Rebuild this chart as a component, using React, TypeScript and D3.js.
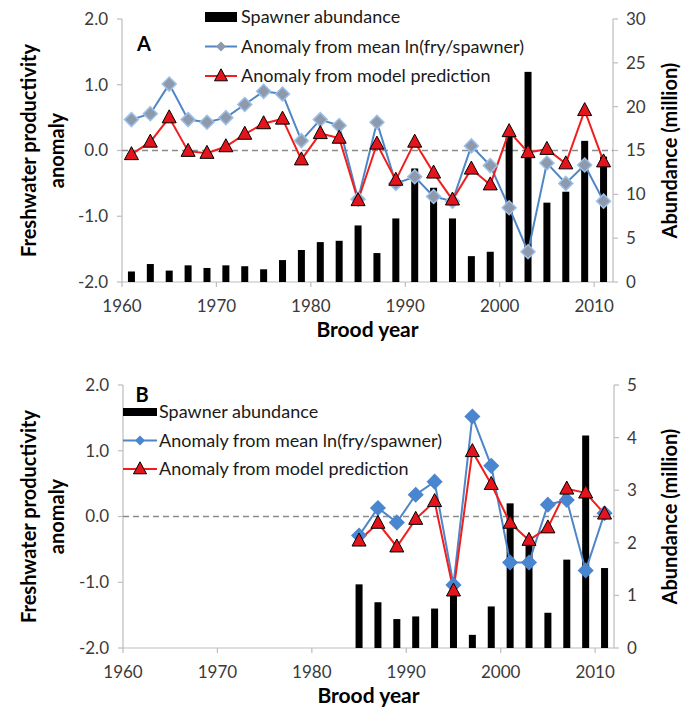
import React from "react";
import * as d3 from "d3";

// Brood years (odd years) for each stock
const yearsA = [1961, 1963, 1965, 1967, 1969, 1971, 1973, 1975, 1977, 1979, 1981, 1983, 1985, 1987, 1989, 1991, 1993, 1995, 1997, 1999, 2001, 2003, 2005, 2007, 2009, 2011];
// Spawner abundance (million)
const abundanceA = [1.2, 2.05, 1.3, 1.9, 1.6, 1.9, 1.8, 1.45, 2.5, 3.65, 4.55, 4.7, 6.45, 3.3, 7.25, 12.95, 10.75, 7.25, 2.95, 3.45, 16.55, 23.97, 9.05, 10.3, 16.1, 14.3];
// Anomaly from mean ln(fry/spawner)
const meanAnomA = [0.47, 0.56, 1.01, 0.47, 0.43, 0.5, 0.7, 0.9, 0.86, 0.15, 0.47, 0.38, -0.74, 0.43, -0.5, -0.4, -0.7, -0.77, 0.07, -0.23, -0.87, -1.54, -0.19, -0.5, -0.22, -0.77];
// Anomaly from model prediction
const modelAnomA = [-0.06, 0.13, 0.5, -0.01, -0.04, 0.06, 0.25, 0.41, 0.48, -0.14, 0.26, 0.19, -0.76, 0.1, -0.45, 0.13, -0.34, -0.75, -0.28, -0.52, 0.29, -0.03, 0.02, -0.2, 0.61, -0.17];

const yearsB = [1985, 1987, 1989, 1991, 1993, 1995, 1997, 1999, 2001, 2003, 2005, 2007, 2009, 2011];
const abundanceB = [1.21, 0.87, 0.55, 0.6, 0.75, 1.1, 0.25, 0.79, 2.75, 2.0, 0.67, 1.68, 4.04, 1.52];
const meanAnomB = [-0.29, 0.13, -0.09, 0.33, 0.53, -1.04, 1.52, 0.77, -0.7, -0.7, 0.18, 0.25, -0.82, 0.05];
const modelAnomB = [-0.37, -0.1, -0.46, -0.04, 0.23, -1.13, 0.99, 0.49, -0.1, -0.36, -0.17, 0.42, 0.36, 0.04];

const yearTicks = [1960, 1970, 1980, 1990, 2000, 2010];
const anomalyTicks = [-2, -1, 0, 1, 2];
const abundanceTicksA = [0, 5, 10, 15, 20, 25, 30];
const abundanceTicksB = [0, 1, 2, 3, 4, 5];

const legendLabels = ["Spawner abundance", "Anomaly from mean ln(fry/spawner)", "Anomaly from model prediction"];

const FONT = "Lato, 'Open Sans', sans-serif";
const AXIS_GREY = "#BDBDBD";
const TICK_TEXT = "#3a3a3a";
const BLUE = "#4F86C6";
const RED = "#F01E1E";
const TRI_FILL = "#E3141C";

function diamond(cx: number, cy: number, r: number) {
  return `M${cx},${cy - r}L${cx + r},${cy}L${cx},${cy + r}L${cx - r},${cy}Z`;
}
function triangle(cx: number, cy: number, w: number, h: number) {
  return `M${cx},${cy - h * 0.6}L${cx + w / 2},${cy + h * 0.4}L${cx - w / 2},${cy + h * 0.4}Z`;
}

type PanelProps = {
  label: string;
  years: number[];
  abundance: number[];
  meanAnom: number[];
  modelAnom: number[];
  abundTicks: number[];
  left: number;
  right: number;
  top: number;
  bottom: number;
  diamondFill: string;
  diamondStroke: string;
  legend: { x: number; y: number; gap: number; swW: number; swH: number; textX: number; labelX: number; labelY: number };
};

function Panel(p: PanelProps) {
  const x = d3.scaleLinear().domain([1960, 2012]).range([p.left, p.right]);
  const y = d3.scaleLinear().domain([-2, 2]).range([p.bottom, p.top]);
  const ya = d3.scaleLinear().domain([0, p.abundTicks[p.abundTicks.length - 1]]).range([p.bottom, p.top]);
  const fmt = d3.format(".1f");
  const barW = 7;
  const line = d3.line<number>().x((_, i) => x(p.years[i])).y((v) => y(v));
  const midY = (p.top + p.bottom) / 2;
  const lg = p.legend;

  return (
    <g fontFamily={FONT}>
      {/* axes */}
      <line x1={p.left} x2={p.left} y1={p.top} y2={p.bottom} stroke={AXIS_GREY} strokeWidth={1.2} />
      <line x1={p.right} x2={p.right} y1={p.top} y2={p.bottom} stroke={AXIS_GREY} strokeWidth={1.2} />
      <line x1={p.left} x2={p.right} y1={p.bottom} y2={p.bottom} stroke={AXIS_GREY} strokeWidth={1.2} />
      {anomalyTicks.map((t) => (
        <g key={"l" + t}>
          <line x1={p.left - 5} x2={p.left} y1={y(t)} y2={y(t)} stroke={AXIS_GREY} strokeWidth={1.2} />
          <text x={p.left - 14} y={y(t)} dy="0.35em" textAnchor="end" fontSize={17} fill={TICK_TEXT}>
            {t < 0 ? "-" + fmt(-t) : fmt(t)}
          </text>
        </g>
      ))}
      {p.abundTicks.map((t) => (
        <g key={"r" + t}>
          <line x1={p.right} x2={p.right + 5} y1={ya(t)} y2={ya(t)} stroke={AXIS_GREY} strokeWidth={1.2} />
          <text x={p.right + 13} y={ya(t)} dy="0.35em" textAnchor="start" fontSize={17} fill={TICK_TEXT}>
            {t}
          </text>
        </g>
      ))}
      {yearTicks.map((t) => (
        <g key={"x" + t}>
          <line x1={x(t)} x2={x(t)} y1={p.bottom} y2={p.bottom + 5} stroke={AXIS_GREY} strokeWidth={1.2} />
          <text x={x(t)} y={p.bottom + 24} dy="0.35em" textAnchor="middle" fontSize={17} fill={TICK_TEXT}>
            {t}
          </text>
        </g>
      ))}

      {/* axis titles */}
      <text transform={`translate(29,${midY}) rotate(-90)`} textAnchor="middle" dy="0.35em" fontSize={20} fontWeight="bold" fill="#000">
        Freshwater productivity
      </text>
      <text transform={`translate(57,${midY}) rotate(-90)`} textAnchor="middle" dy="0.35em" fontSize={20} fontWeight="bold" fill="#000">
        anomaly
      </text>
      <text transform={`translate(670,${midY}) rotate(-90)`} textAnchor="middle" dy="0.35em" fontSize={20} fontWeight="bold" fill="#000">
        Abundance (million)
      </text>
      <text x={(p.left + p.right) / 2} y={p.bottom + 55} textAnchor="middle" fontSize={21} fontWeight="bold" fill="#000">
        Brood year
      </text>

      {/* zero reference */}
      <line x1={p.left} x2={p.right} y1={y(0)} y2={y(0)} stroke="#8a8a8a" strokeWidth={1.6} strokeDasharray="6,4" />

      {/* spawner abundance bars */}
      {p.abundance.map((v, i) => (
        <rect key={"b" + i} x={x(p.years[i]) - barW / 2} y={ya(v)} width={barW} height={p.bottom - ya(v)} fill="#000" />
      ))}

      {/* anomaly lines */}
      <path d={line(p.meanAnom) || ""} fill="none" stroke={BLUE} strokeWidth={2} />
      <path d={line(p.modelAnom) || ""} fill="none" stroke={RED} strokeWidth={2} />
      {p.meanAnom.map((v, i) => (
        <path key={"d" + i} d={diamond(x(p.years[i]), y(v), 7)} fill={p.diamondFill} stroke={p.diamondStroke} strokeWidth={1.5} />
      ))}
      {p.modelAnom.map((v, i) => (
        <path key={"t" + i} d={triangle(x(p.years[i]), y(v), 14, 13)} fill={TRI_FILL} stroke="#000" strokeWidth={1} />
      ))}

      {/* panel label */}
      <text x={lg.labelX} y={lg.labelY} dy="0.35em" textAnchor="middle" fontSize={20} fontWeight="bold" fill="#000">
        {p.label}
      </text>

      {/* legend */}
      <rect x={lg.x} y={lg.y - lg.swH / 2} width={lg.swW} height={lg.swH} fill="#000" />
      <line x1={lg.x} x2={lg.x + lg.swW} y1={lg.y + lg.gap} y2={lg.y + lg.gap} stroke={BLUE} strokeWidth={2} />
      <path d={diamond(lg.x + lg.swW / 2, lg.y + lg.gap, 5)} fill={p.diamondFill} stroke="none" />
      <line x1={lg.x} x2={lg.x + lg.swW} y1={lg.y + 2 * lg.gap} y2={lg.y + 2 * lg.gap} stroke={RED} strokeWidth={2} />
      <path d={triangle(lg.x + lg.swW / 2, lg.y + 2 * lg.gap, 13, 12)} fill={TRI_FILL} stroke="#000" strokeWidth={1} />
      {legendLabels.map((s, i) => (
        <text key={s} x={lg.textX} y={lg.y + i * lg.gap} dy="0.35em" fontSize={18} fill="#1a1a1a">
          {s}
        </text>
      ))}
    </g>
  );
}

export default function App() {
  return (
    <svg width={694} height={708} style={{ position: "absolute", left: 0, top: 0, background: "#fff" }}>
      <rect width={694} height={708} fill="#fff" />
      <Panel
        label="A"
        years={yearsA}
        abundance={abundanceA}
        meanAnom={meanAnomA}
        modelAnom={modelAnomA}
        abundTicks={abundanceTicksA}
        left={122}
        right={613}
        top={19}
        bottom={282}
        diamondFill="#8E99AC"
        diamondStroke="#9CC0E8"
        legend={{ x: 205, y: 17, gap: 29.5, swW: 32, swH: 10, textX: 241, labelX: 144, labelY: 44 }}
      />
      <Panel
        label="B"
        years={yearsB}
        abundance={abundanceB}
        meanAnom={meanAnomB}
        modelAnom={modelAnomB}
        abundTicks={abundanceTicksB}
        left={123}
        right={614}
        top={385}
        bottom={648}
        diamondFill="#4A86D0"
        diamondStroke="#4A86D0"
        legend={{ x: 123, y: 412, gap: 28.5, swW: 34, swH: 8, textX: 159, labelX: 142, labelY: 395 }}
      />
    </svg>
  );
}
